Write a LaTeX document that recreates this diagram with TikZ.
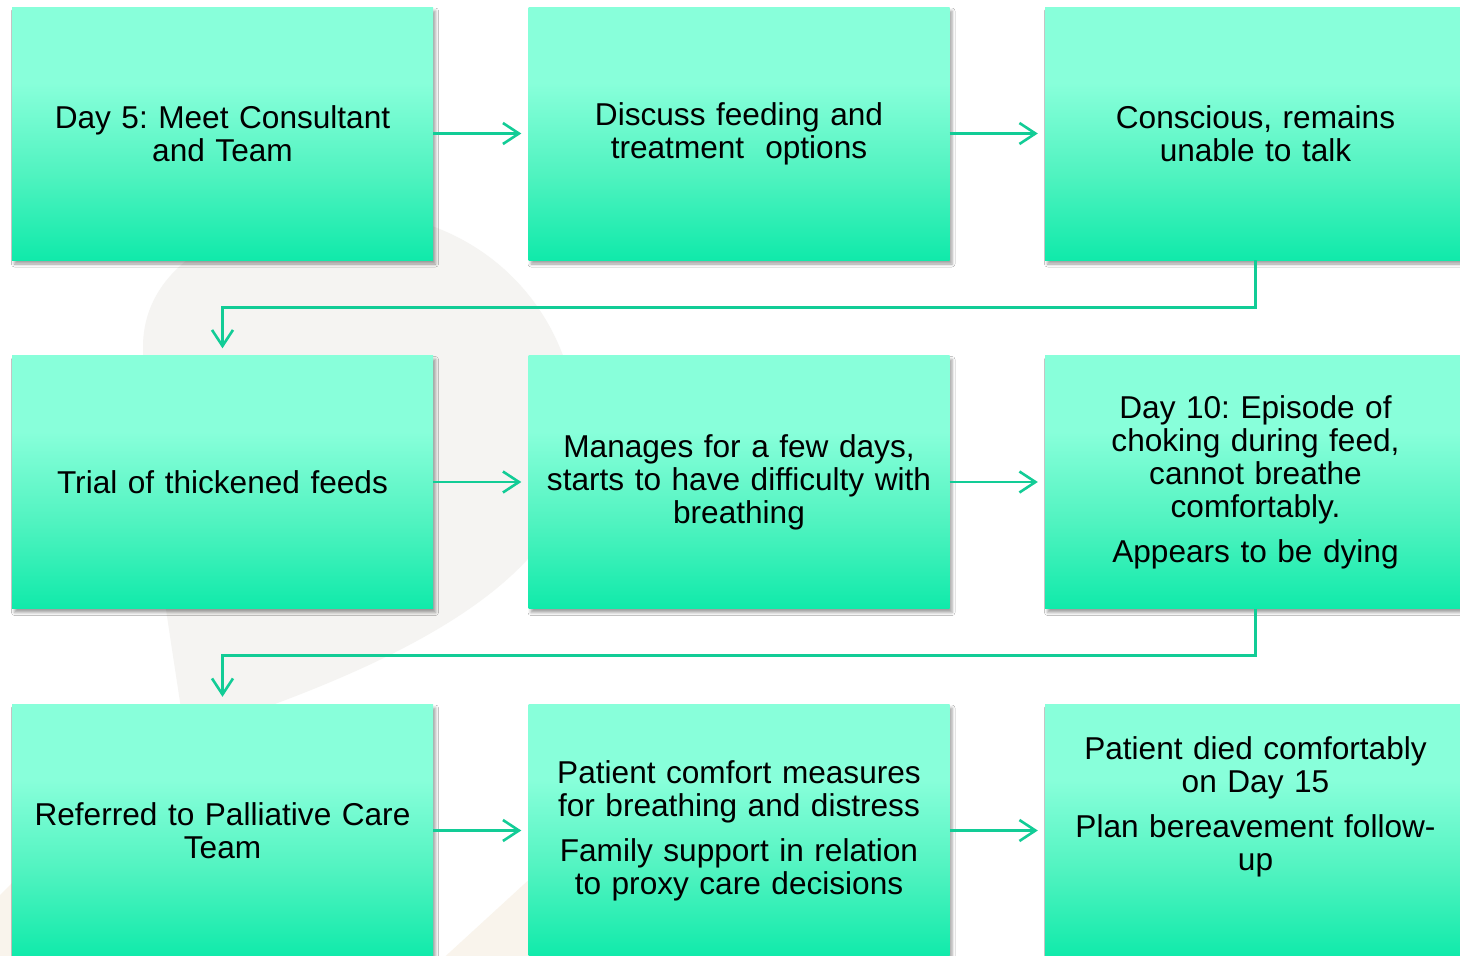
\documentclass[tikz,border=0pt]{standalone}
\usepackage{fontspec}
\setmainfont{Liberation Sans}
\usetikzlibrary{arrows.meta,shadows.blur}

\definecolor{boxtop}{RGB}{136,255,218}
\definecolor{boxmid}{RGB}{80,243,192}
\definecolor{boxbot}{RGB}{16,234,170}
\definecolor{flow}{RGB}{18,204,150}
\definecolor{markgrey}{RGB}{245,244,242}
\definecolor{sand}{RGB}{249,244,236}

% light at the top, deepening towards the bottom (25bp..75bp spans the box)
\pgfdeclareverticalshading{boxshade}{100bp}{%
  color(0bp)=(boxbot); color(25bp)=(boxbot); color(42bp)=(boxmid);
  color(60bp)=(boxtop); color(75bp)=(boxtop); color(100bp)=(boxtop)}

\frenchspacing
\begin{document}
\begin{tikzpicture}[x=1pt,y=-1pt,
  stepbox/.style={rectangle, minimum width=421pt, minimum height=253pt,
    inner sep=0pt, text width=405pt, align=center,
    font=\fontsize{31.6}{33}\selectfont, shading=boxshade,
    blur shadow={shadow xshift=2.5pt, shadow yshift=-4pt,
      shadow blur radius=3pt, shadow opacity=38}},
  steptext/.style={inner sep=0pt, text width=405pt, align=center,
    font=\fontsize{31.6}{33}\selectfont},
  flowline/.style={draw=flow, line width=2.6pt,
    -{Straight Barb[length=16pt,width=21pt,line width=2.6pt]}},
]
\useasboundingbox (0,0) rectangle (1460,956);
\clip (0,0) rectangle (1460,956);
\fill[white] (0,0) rectangle (1460,956);

% faint watermark shapes in the background
\fill[markgrey] (143,345) .. controls (145,250) and (260,212) .. (350,212)
  .. controls (480,212) and (578,310) .. (578,440)
  .. controls (578,560) and (450,650) .. (185,735)
  .. controls (165,600) and (143,480) .. (143,345) -- cycle;
\fill[sand] (425,975) -- (545,865) -- (545,975) -- cycle;
\fill[sand] (0,895) -- (20,875) -- (20,975) -- (0,975) -- cycle;

% row 1
\node[stepbox] (b1) at (222.5,133.5) {Day 5: Meet Consultant\\ and Team};
\node[stepbox] (b2) at (739,133.5) {Discuss feeding and\\ treatment\ \ options};
\node[stepbox] (b3) at (1255.5,133.5) {Conscious, remains\\ unable to talk};

% row 2
\node[stepbox] (b4) at (222.5,482) {Trial of thickened feeds};
\node[stepbox] (b5) at (739,482) {Manages for a few days,\\ starts to have difficulty with\\ breathing};
\node[stepbox] (b6) at (1255.5,482) {Day 10: Episode of\\ choking during feed,\\ cannot breathe\\ comfortably.\\[12pt] Appears to be dying};

% row 3
\node[stepbox] (b7) at (222.5,830.5) {Referred to Palliative Care\\ Team};
\node[stepbox] (b8) at (739,830.5) {Patient comfort measures\\ for breathing and distress\\[12pt] Family support in relation\\ to proxy care decisions};
\node[stepbox] (b9) at (1255.5,830.5) {};
\node[steptext] (b9t) at (1255.5,807) {Patient died comfortably\\ on Day 15\\[12pt] Plan bereavement follow-\\ up};

% connectors
\draw[flowline, shorten >=7pt] (b1.east) -- (b2.west);
\draw[flowline, shorten >=7pt] (b2.east) -- (b3.west);
\draw[flowline, shorten >=7pt] (b4.east) -- (b5.west);
\draw[flowline, shorten >=7pt] (b5.east) -- (b6.west);
\draw[flowline, shorten >=7pt] (b7.east) -- (b8.west);
\draw[flowline, shorten >=7pt] (b8.east) -- (b9.west);
\draw[flowline, shorten >=7pt] (b3.south) -- ++(0,47) -| (b4.north);
\draw[flowline, shorten >=7pt] (b6.south) -- ++(0,47) -| (b7.north);
\end{tikzpicture}
\end{document}
